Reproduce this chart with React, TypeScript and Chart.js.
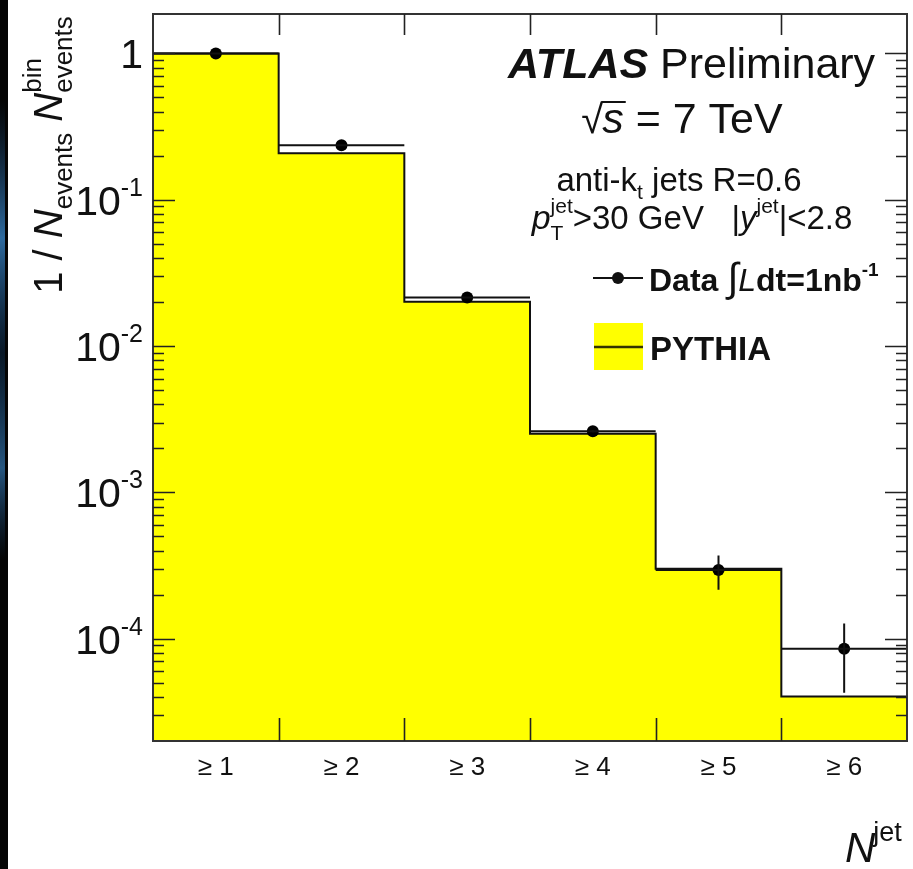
import { useEffect, useRef } from 'react';
import { Chart, registerables } from 'chart.js';

Chart.register(...registerables);

// Jet multiplicity bins (inclusive)
const binLabels = ['≥ 1', '≥ 2', '≥ 3', '≥ 4', '≥ 5', '≥ 6'];
// PYTHIA prediction, normalised to the number of events
const pythiaValues = [1.0, 0.2076, 0.0201, 0.00252, 0.000301, 0.0000403];
// Measured data and its uncertainty band
const dataValues = [1.0, 0.236, 0.0215, 0.00262, 0.000295, 0.0000855];
const dataErrLow = [0.997, 0.2345, 0.0213, 0.00257, 0.000216, 0.0000427];
const dataErrHigh = [1.003, 0.2375, 0.0217, 0.00267, 0.000371, 0.000127];
// Decade ticks on the logarithmic axis: mantissa and exponent
const yDecades = [1, 0.1, 0.01, 0.001, 0.0001];
const yTickBase = ['1', '10', '10', '10', '10'];
const yTickExp = ['', '-1', '-2', '-3', '-4'];

const Y_MIN = 2e-5;
const Y_MAX = 1.86;

const FONT = '"Liberation Sans", Arial, Helvetica, sans-serif';
const INK = '#111111';

type Seg = { t: string; size: number; bold?: boolean; italic?: boolean; dy?: number; dx?: number; stack?: boolean };
type Placed = { s: Seg; x: number; w: number };

function segFont(s: Seg) {
  return `${s.italic ? 'italic ' : ''}${s.bold ? 'bold ' : ''}${s.size}px ${FONT}`;
}

function layoutRich(ctx: CanvasRenderingContext2D, segs: Seg[]) {
  let x = 0;
  let prevStart = 0;
  let prevW = 0;
  const items: Placed[] = [];
  for (const s of segs) {
    ctx.font = segFont(s);
    const w = ctx.measureText(s.t).width;
    if (s.stack) {
      items.push({ s, x: prevStart, w });
      prevW = Math.max(prevW, w);
      x = prevStart + prevW;
    } else {
      const start = x + (s.dx || 0);
      items.push({ s, x: start, w });
      prevStart = start;
      prevW = w;
      x = start + w;
    }
  }
  return { items, width: x };
}

function drawRich(ctx: CanvasRenderingContext2D, x: number, y: number, segs: Seg[], align: 'left' | 'center' | 'right' = 'left') {
  const { items, width } = layoutRich(ctx, segs);
  const off = align === 'center' ? -width / 2 : align === 'right' ? -width : 0;
  ctx.textAlign = 'left';
  ctx.textBaseline = 'alphabetic';
  const placed = items.map((it) => ({ ...it, x: x + off + it.x }));
  for (const it of placed) {
    ctx.font = segFont(it.s);
    ctx.fillText(it.s.t, it.x, y + (it.s.dy || 0));
  }
  return placed;
}

const histogramDecor = {
  id: 'histogramDecor',
  afterDatasetsDraw(chart: any) {
    const { ctx, scales } = chart;
    const xs = scales.x;
    const ys = scales.y;
    ctx.save();
    ctx.strokeStyle = INK;
    ctx.lineWidth = 2;
    dataValues.forEach((v, i) => {
      const y = ys.getPixelForValue(v);
      ctx.beginPath();
      ctx.moveTo(xs.getPixelForValue(i), y);
      ctx.lineTo(xs.getPixelForValue(i + 1), y);
      const xc = xs.getPixelForValue(i + 0.5);
      ctx.moveTo(xc, ys.getPixelForValue(dataErrLow[i]));
      ctx.lineTo(xc, ys.getPixelForValue(dataErrHigh[i]));
      ctx.stroke();
    });
    ctx.restore();
  },
  afterDraw(chart: any) {
    const { ctx, scales, chartArea } = chart;
    const xs = scales.x;
    const ys = scales.y;
    const { left, right, top, bottom } = chartArea;
    ctx.save();

    // dark strip along the left edge
    ctx.fillStyle = '#050505';
    ctx.fillRect(0, 0, 8, 869);
    const glow = ctx.createLinearGradient(0, 100, 0, 560);
    glow.addColorStop(0, 'rgba(30,90,150,0)');
    glow.addColorStop(0.3, 'rgba(60,140,210,0.75)');
    glow.addColorStop(0.55, 'rgba(20,70,120,0.3)');
    glow.addColorStop(0.8, 'rgba(60,140,210,0.6)');
    glow.addColorStop(1, 'rgba(30,90,150,0)');
    ctx.fillStyle = glow;
    ctx.fillRect(0, 100, 5, 460);

    // frame
    ctx.strokeStyle = '#333333';
    ctx.lineWidth = 2;
    ctx.strokeRect(left, top, right - left, bottom - top);

    // logarithmic ticks on both vertical sides
    ctx.lineWidth = 1.6;
    ctx.strokeStyle = '#222222';
    for (let e = -5; e <= 0; e++) {
      for (let m = 1; m <= 9; m++) {
        const v = m * Math.pow(10, e);
        if (v <= Y_MIN * 1.001 || v >= Y_MAX) continue;
        const y = Math.round(ys.getPixelForValue(v)) + 0.5;
        const len = m === 1 ? 22 : 11;
        ctx.beginPath();
        ctx.moveTo(left, y);
        ctx.lineTo(left + len, y);
        ctx.moveTo(right, y);
        ctx.lineTo(right - len, y);
        ctx.stroke();
      }
    }
    // bin-edge ticks on top and bottom
    for (let i = 1; i < binLabels.length; i++) {
      const x = Math.round(xs.getPixelForValue(i)) + 0.5;
      ctx.beginPath();
      ctx.moveTo(x, bottom);
      ctx.lineTo(x, bottom - 23);
      ctx.moveTo(x, top);
      ctx.lineTo(x, top + 21);
      ctx.stroke();
    }

    ctx.fillStyle = INK;
    // y tick labels
    yDecades.forEach((v, i) => {
      const y = ys.getPixelForValue(v) + 15;
      const segs: Seg[] = [{ t: yTickBase[i], size: 41 }];
      if (yTickExp[i]) segs.push({ t: yTickExp[i], size: 25, dy: -19 });
      drawRich(ctx, 143, y, segs, 'right');
    });
    // x tick labels
    binLabels.forEach((lab, i) => {
      drawRich(ctx, xs.getPixelForValue(i + 0.5), 775, [{ t: lab, size: 26 }], 'center');
    });

    // axis titles
    ctx.save();
    ctx.translate(62, 155);
    ctx.rotate(-Math.PI / 2);
    drawRich(ctx, 0, 0, [
      { t: '1 / ', size: 40 },
      { t: 'N', size: 40, italic: true },
      { t: 'events', size: 26, dy: 10 },
      { t: 'N', size: 40, italic: true, dx: 11 },
      { t: 'bin', size: 26, dy: -21 },
      { t: 'events', size: 26, dy: 10, stack: true },
    ], 'center');
    ctx.restore();
    drawRich(ctx, 845, 862, [
      { t: 'N', size: 42, italic: true },
      { t: 'jet', size: 27, dy: -21, dx: -2 },
    ]);

    // experiment labels
    drawRich(ctx, 508, 78, [
      { t: 'ATLAS', size: 43, bold: true, italic: true },
      { t: ' Preliminary', size: 43 },
    ]);
    const sq = drawRich(ctx, 682, 133, [
      { t: '√', size: 40 },
      { t: 's', size: 43, italic: true, dx: -1 },
      { t: ' = 7 TeV', size: 43 },
    ], 'center');
    ctx.lineWidth = 2;
    ctx.strokeStyle = INK;
    ctx.beginPath();
    ctx.moveTo(sq[0].x + sq[0].w - 2, 133 - 31);
    ctx.lineTo(sq[1].x + sq[1].w + 2, 133 - 31);
    ctx.stroke();
    drawRich(ctx, 679, 191, [
      { t: 'anti-k', size: 33 },
      { t: 't', size: 21, dy: 8 },
      { t: ' jets R=0.6', size: 33 },
    ], 'center');
    drawRich(ctx, 692, 229, [
      { t: 'p', size: 34, italic: true },
      { t: 'jet', size: 21, dy: -16 },
      { t: 'T', size: 21, dy: 11, stack: true },
      { t: '>30 GeV   |', size: 33 },
      { t: 'y', size: 33, italic: true },
      { t: 'jet', size: 21, dy: -16 },
      { t: '|<2.8', size: 33 },
    ], 'center');

    // legend
    ctx.strokeStyle = INK;
    ctx.lineWidth = 2;
    ctx.beginPath();
    ctx.moveTo(593, 278);
    ctx.lineTo(643, 278);
    ctx.stroke();
    ctx.beginPath();
    ctx.arc(618, 278, 6, 0, Math.PI * 2);
    ctx.fill();
    drawRich(ctx, 649, 291, [
      { t: 'Data ', size: 32, bold: true },
      { t: '∫', size: 40, italic: true },
      { t: 'L', size: 32, italic: true },
      { t: 'dt=1nb', size: 32, bold: true },
      { t: '-1', size: 19, bold: true, dy: -15 },
    ]);
    ctx.fillStyle = '#ffff00';
    ctx.fillRect(594, 323, 49, 47);
    ctx.strokeStyle = '#333300';
    ctx.lineWidth = 2.5;
    ctx.beginPath();
    ctx.moveTo(594, 347);
    ctx.lineTo(643, 347);
    ctx.stroke();
    ctx.fillStyle = INK;
    drawRich(ctx, 650, 360, [{ t: 'PYTHIA', size: 33, bold: true }]);

    ctx.restore();
  },
};

export default function App() {
  const canvasRef = useRef<HTMLCanvasElement | null>(null);

  useEffect(() => {
    const canvas = canvasRef.current;
    if (!canvas) return;
    // step outline through the bin edges; the last bin repeats its value
    const steps = pythiaValues.map((v, i) => ({ x: i, y: v }));
    steps.push({ x: pythiaValues.length, y: pythiaValues[pythiaValues.length - 1] });
    const points = dataValues.map((v, i) => ({ x: i + 0.5, y: v }));

    const chart = new Chart(canvas, {
      type: 'line',
      data: {
        datasets: [
          {
            label: 'PYTHIA',
            data: steps,
            stepped: 'before',
            fill: 'start',
            backgroundColor: '#ffff00',
            borderColor: INK,
            borderWidth: 2,
            pointRadius: 0,
            order: 2,
          } as any,
          {
            type: 'scatter',
            label: 'Data',
            data: points,
            showLine: false,
            pointRadius: 6,
            pointBackgroundColor: '#000000',
            pointBorderWidth: 0,
            order: 1,
          } as any,
        ],
      },
      options: {
        animation: false,
        responsive: false,
        maintainAspectRatio: false,
        layout: { padding: { left: 153, top: 14, right: 4, bottom: 128 } },
        plugins: { legend: { display: false }, tooltip: { enabled: false } },
        scales: {
          x: { type: 'linear', min: 0, max: binLabels.length, display: false },
          y: { type: 'logarithmic', min: Y_MIN, max: Y_MAX, display: false },
        },
      },
      plugins: [histogramDecor],
    });
    return () => chart.destroy();
  }, []);

  return (
    <div style={{ position: 'absolute', left: 0, top: 0, width: 913, height: 869, background: '#ffffff' }}>
      <canvas ref={canvasRef} width={913} height={869} style={{ display: 'block' }} />
    </div>
  );
}
